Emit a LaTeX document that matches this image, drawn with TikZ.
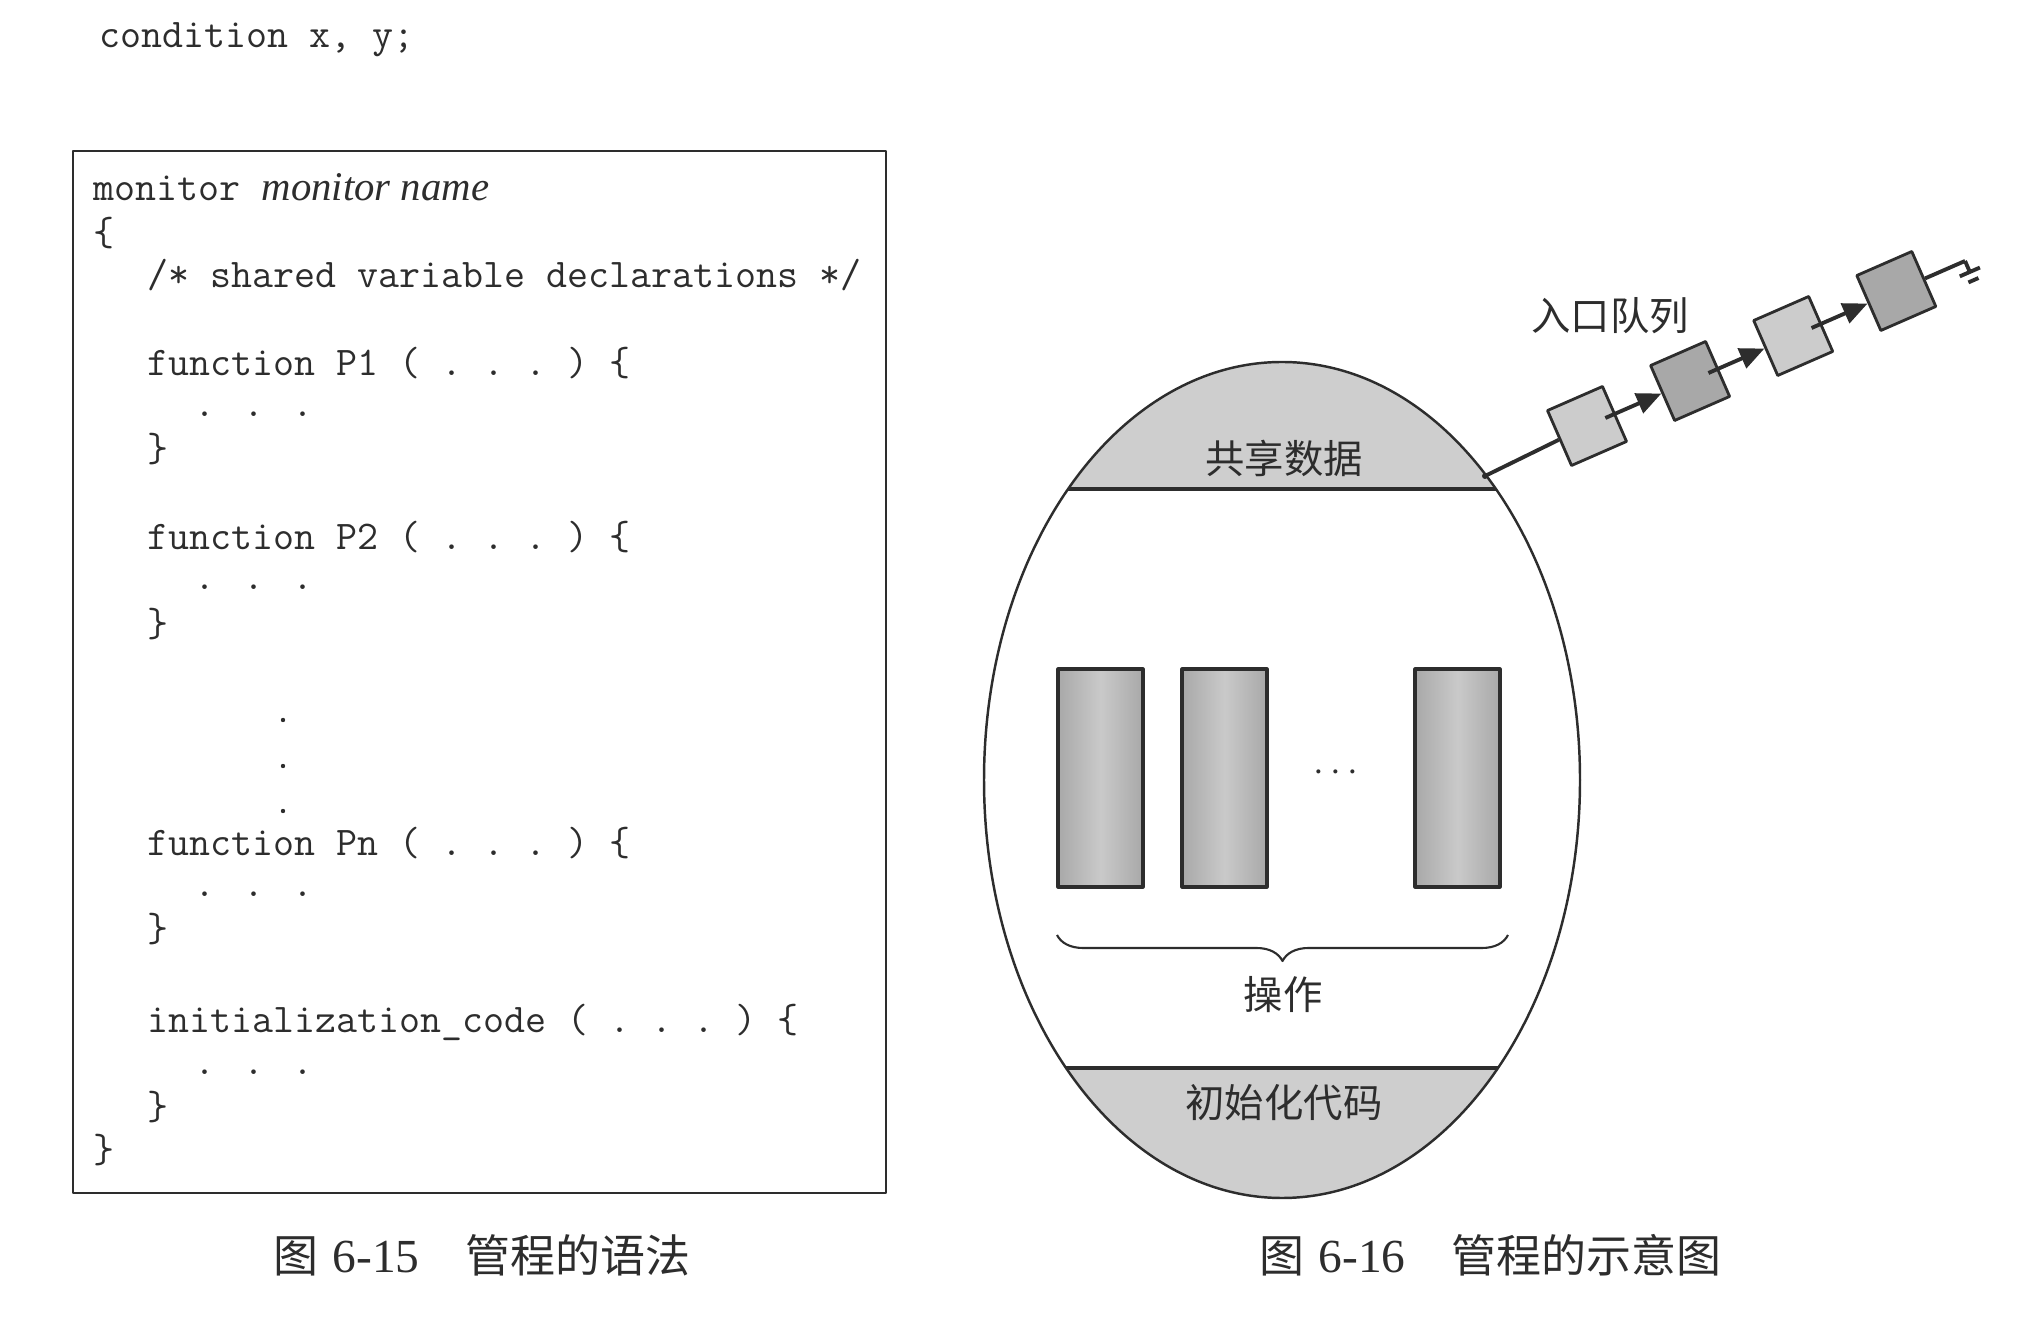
\documentclass[tikz,border=0pt]{standalone}
\usepackage{fontspec}
\setmainfont{Liberation Serif}
\newfontfamily\cjk{Noto Sans CJK SC}
\usetikzlibrary{arrows.meta,calc,decorations.pathreplacing}
\definecolor{ink}{RGB}{45,45,45}
\definecolor{capfill}{RGB}{206,206,206}
\colorlet{qlight}{gray!40}
\colorlet{qdark}{gray!68}
\tikzset{
  code/.style={anchor=base west, inner sep=0pt, text=ink, font=\fontsize{11.6}{13}\selectfont\ttfamily},
  fline/.style={code, font=\fontsize{11.6}{13}\selectfont\ttfamily\frenchspacing},
  cjklab/.style={inner sep=0pt, text=ink, font=\fontsize{11.2}{13}\selectfont\cjk},
  figcap/.style={anchor=base west, inner sep=0pt, text=ink, font=\fontsize{12.8}{15}\selectfont},
  opbox/.style={draw=ink, line width=0.9pt, left color=gray!68, right color=gray!68, middle color=gray!42},
  qbox/.style={draw=ink, line width=0.8pt, minimum size=0.6cm, inner sep=0pt, rotate=23.6},
  qline/.style={draw=ink, line width=1.1pt},
  qarrow/.style={qline, -{Triangle[length=7pt,width=6pt]}, shorten <=0.2cm},
}
\begin{document}
\begin{tikzpicture}[line join=round]
	\useasboundingbox (0,0) rectangle (20.35,13.16);
	\node[code] (cond) at (0.99,12.68) {condition x, y;};
	\draw[ink, line width=0.6pt] (0.73,1.23) rectangle (8.86,11.65);
	\node[code] (mon) at (0.93,11.15) {monitor {\rmfamily\itshape monitor name}};
	\node[code] (open) at (0.93,10.70) {\{};
	\node[code] (decl) at (1.47,10.28) {/* shared variable declarations */};
	\node[fline] (fa) at (1.47,9.40) {function P1 ( . . . ) \{};
	\node[code] (fabody) at (1.94,8.99) {. . .};
	\node[code] (faend) at (1.47,8.54) {\}};
	\node[fline] (fb) at (1.47,7.66) {function P2 ( . . . ) \{};
	\node[code] (fbbody) at (1.94,7.26) {. . .};
	\node[code] (fbend) at (1.47,6.79) {\}};
	\foreach \y in {5.96,5.50,5.05} \fill[ink] (2.83,\y) circle (0.022);
	\node[fline] (fn) at (1.47,4.60) {function Pn ( . . . ) \{};
	\node[code] (fnbody) at (1.94,4.19) {. . .};
	\node[code] (fnend) at (1.47,3.74) {\}};
	\node[fline] (ini) at (1.47,2.83) {initialization\_code ( . . . ) \{};
	\node[code] (inibody) at (1.94,2.42) {. . .};
	\node[code] (iniend) at (1.47,1.97) {\}};
	\node[code] (close) at (0.93,1.53) {\}};
	\node[figcap] (capa) at (2.73,0.44) {{\cjk 图}\hspace{0.14cm}{\fontsize{13.5}{15}\selectfont 6-15}\hspace{0.46cm}{\cjk 管程的语法}};
	\begin{scope}
	\clip (12.82,5.36) ellipse [x radius=2.98, y radius=4.18];
	\fill[capfill] (9.5,8.27) rectangle (16,10);
	\fill[capfill] (9.5,0.5) rectangle (16,2.48);
	\draw[ink, line width=1.1pt] (9.5,8.27) -- (16,8.27) (9.5,2.48) -- (16,2.48);
	\end{scope}
	\draw[ink, line width=0.7pt] (12.82,5.36) ellipse [x radius=2.98, y radius=4.18];
	\node[cjklab] (shared) at (12.84,8.58) {共享数据};
	\node[cjklab] (initcode) at (12.84,2.13) {初始化代码};
	\foreach \x in {10.58,11.82,14.15} \draw[opbox] (\x,4.29) rectangle ++(0.85,2.18);
	\node[inner sep=0pt, text=ink, font=\fontsize{11}{12}\selectfont] (more) at (13.36,5.43) {$\cdots$};
	\draw[ink, line width=0.6pt, decorate, decoration={brace, mirror, amplitude=0.26cm}] (10.57,3.81) -- (15.08,3.81);
	\node[cjklab] (ops) at (12.83,3.21) {操作};
	\node[cjklab] (queue) at (16.10,10.00) {入口队列};
	\foreach \i/\c in {1/qlight,2/qdark,3/qlight,4/qdark}
		\node[qbox, fill=\c] (q\i) at ({15.87+1.031*(\i-1)},{8.90+0.45*(\i-1)}) {};
	\coordinate (entry) at (14.85,8.40);
	\draw[qline] (entry) -- (q1);
	\fill[ink] (entry) circle (0.03);
	\foreach \i/\j in {1/2,2/3,3/4} \draw[qarrow] (q\i.center) -- (q\j);
	\coordinate (gnd) at ($(q4.center)+(23.6:0.75)$);
	\draw[qline] (q4) -- (gnd);
	\begin{scope}[shift={(gnd)}, rotate=23.6, ink, line width=1.1pt]
	\draw (0,0) -- (0,-0.12);
	\draw (-0.11,-0.12) -- (0.11,-0.12);
	\draw (-0.055,-0.21) -- (0.055,-0.21);
	\end{scope}
	\node[figcap] (capb) at (12.59,0.44) {{\cjk 图}\hspace{0.14cm}{\fontsize{13.5}{15}\selectfont 6-16}\hspace{0.46cm}{\cjk 管程的示意图}};
\end{tikzpicture}
\end{document}
